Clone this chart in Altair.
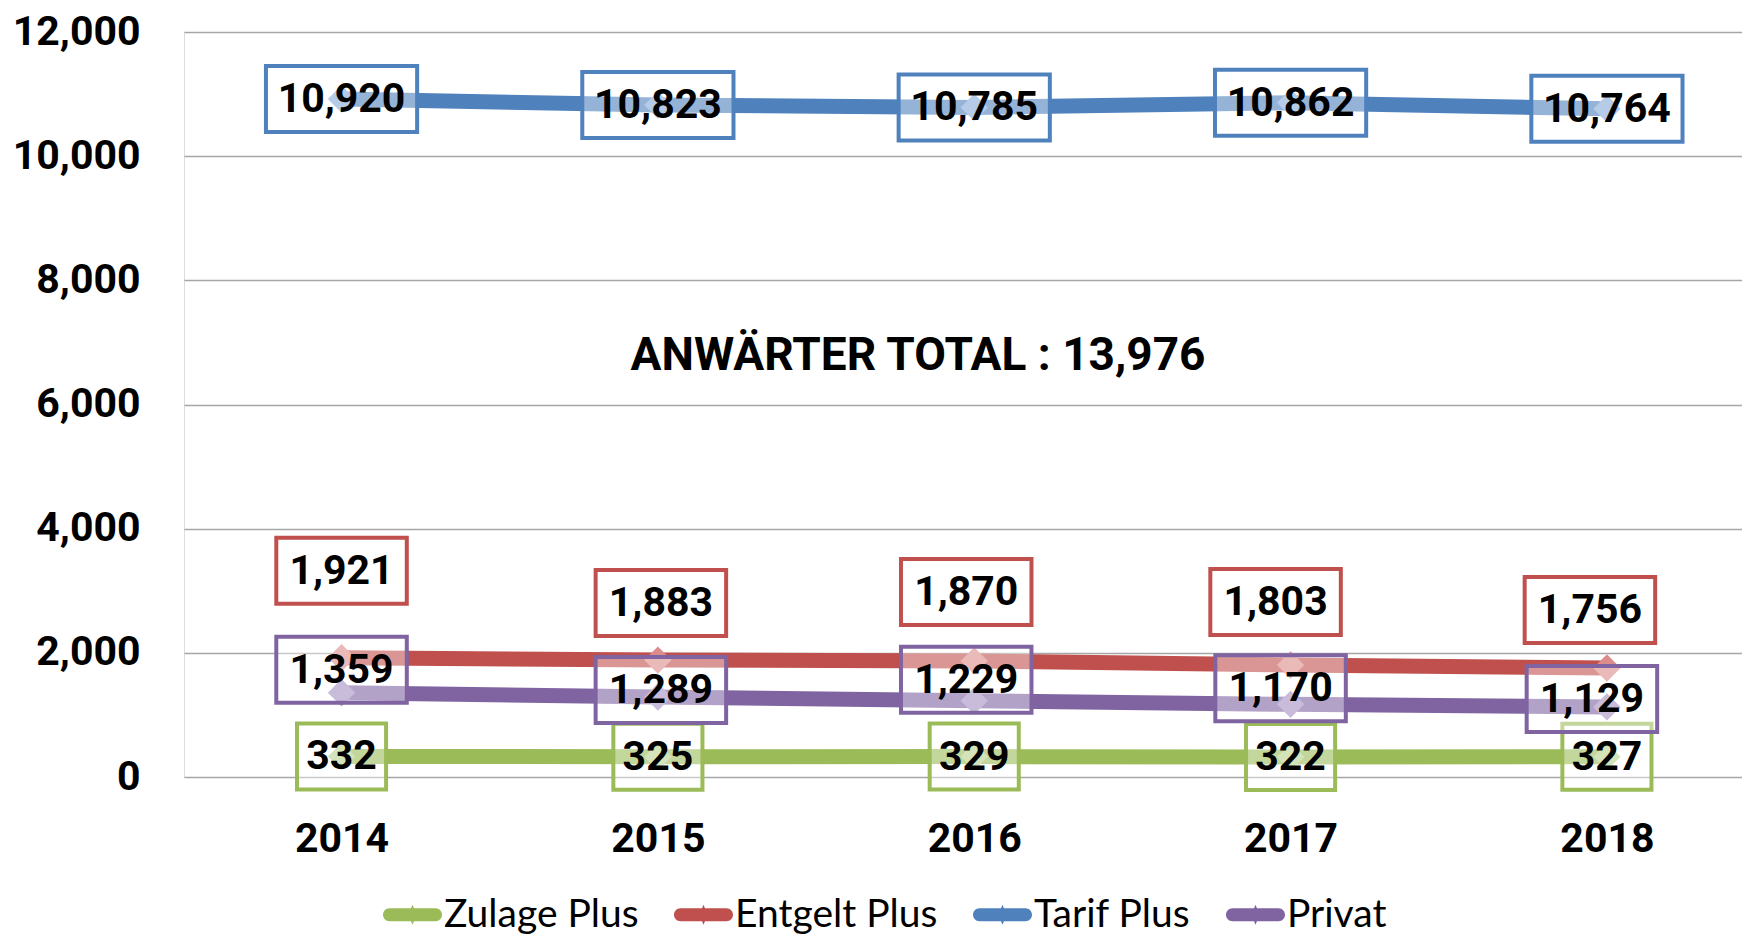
import altair as alt
import pandas as pd

# ---- data ----
years = [2014, 2015, 2016, 2017, 2018]
series = ["Zulage Plus", "Entgelt Plus", "Tarif Plus", "Privat"]
zulage_plus = [332, 325, 329, 322, 327]
entgelt_plus = [1921, 1883, 1870, 1803, 1756]
tarif_plus = [10920, 10823, 10785, 10862, 10764]
privat = [1359, 1289, 1229, 1170, 1129]
y_ticks = [0, 2000, 4000, 6000, 8000, 10000, 12000]

# ---- styles ----
colors = ["#9BBB59", "#C0504D", "#4F81BD", "#8064A2"]
light_colors = ["#B7D08A", "#DC8D8B", "#86A8D8", "#A690C2"]
# pixel nudges of the value-label boxes (style only)
label_dx = {"Zulage Plus": [0, 0, 0, 0, 0],
            "Entgelt Plus": [0, 3, -8, -15, -17],
            "Tarif Plus": [0, 0, 0, 0, 0],
            "Privat": [0, 3, -8, -10, -15]}
label_dy = {"Zulage Plus": [0, 0, 0, 0, 0],
            "Entgelt Plus": [-87, -57, -69, -63, -58],
            "Tarif Plus": [0, 0, 0, 0, 0],
            "Privat": [-23, -7, -21, -16, -8]}
NUM_FONT = "Roboto"

rows = []
for name, vals in zip(series, [zulage_plus, entgelt_plus, tarif_plus, privat]):
    for i, (yr, v) in enumerate(zip(years, vals)):
        rows.append({"year": yr, "series": name, "value": v, "label": f"{v:,}",
                     "dx": label_dx[name][i], "dy": label_dy[name][i]})
df = pd.DataFrame(rows)

total = zulage_plus[-1] + entgelt_plus[-1] + tarif_plus[-1] + privat[-1]
title_text = f"ANWÄRTER TOTAL : {total:,}"


def color_expr(palette):
    expr = "'black'"
    for name, col in reversed(list(zip(series, palette))):
        expr = f"datum.series === '{name}' ? '{col}' : ({expr})"
    return expr


color_scale = alt.Scale(domain=series, range=colors)

x_enc = alt.X("year:Q",
              scale=alt.Scale(domain=[2013.502, 2018.427], nice=False, zero=False),
              axis=alt.Axis(values=years, format="d", title=None, grid=False,
                            ticks=False, domain=False, labelFont=NUM_FONT,
                            labelFontWeight="bold", labelFontSize=41,
                            labelColor="black", labelPadding=42, labelFlush=False))
y_enc = alt.Y("value:Q",
              scale=alt.Scale(domain=[0, 12000], nice=False),
              axis=alt.Axis(values=y_ticks, format=",d", title=None, ticks=False,
                            domain=False, labelFont=NUM_FONT, labelFontWeight="bold",
                            labelFontSize=41, labelColor="black", labelPadding=44,
                            gridColor="#A6A6A6", gridWidth=1.5))

base = alt.Chart(df).transform_calculate(
    main_col=color_expr(colors),
    light_col=color_expr(light_colors),
)

lines = base.mark_line(strokeWidth=15).encode(
    x=x_enc, y=y_enc,
    stroke=alt.Stroke("main_col:N", scale=None),
    detail="series:N",
)

pill = ("M-0.78,-0.22 L0.78,-0.22 A0.22,0.22 0 0 1 0.78,0.22 L-0.78,0.22 "
        "A0.22,0.22 0 0 1 -0.78,-0.22 Z M0,-0.34 L0.14,0 L0,0.34 L-0.14,0 Z")

legend_layer = base.mark_point(filled=True, size=1, opacity=1).encode(
    x=x_enc, y=y_enc,
    color=alt.Color("series:N", scale=color_scale, sort=series,
                    legend=alt.Legend(title=None, orient="none", legendX=199, legendY=853,
                                      direction="horizontal", columns=4,
                                      symbolType=pill, symbolSize=3481,
                                      symbolStrokeWidth=0, symbolOpacity=1,
                                      labelFont="Lato", labelFontSize=39,
                                      labelColor="black", labelOffset=2,
                                      labelLimit=0, columnPadding=35)),
)

diamonds = base.mark_point(shape="diamond", filled=True, size=750, opacity=1,
                           strokeWidth=0).encode(
    x=x_enc, y=y_enc,
    fill=alt.Fill("light_col:N", scale=None),
)

boxes = base.transform_calculate(
    hw="13.5 + 10.35 * length(datum.label)",
).transform_calculate(
    x0="datum.dx - datum.hw", x1="datum.dx + datum.hw",
    y0="datum.dy - 33", y1="datum.dy + 33",
).transform_calculate(
    boxpath="'M' + datum.x0 + ',' + datum.y0 + ' L' + datum.x1 + ',' + datum.y0"
            " + ' L' + datum.x1 + ',' + datum.y1 + ' L' + datum.x0 + ',' + datum.y1 + ' Z'"
).mark_point(size=4, fill="white", fillOpacity=0.4, strokeWidth=4,
             strokeOpacity=1, opacity=1).encode(
    x=x_enc, y=y_enc,
    shape=alt.Shape("boxpath:N", scale=None),
    stroke=alt.Stroke("main_col:N", scale=None),
)

text_layers = []
pairs = sorted(set(zip(df["dx"], df["dy"])))
for dx, dy in pairs:
    text_layers.append(
        base.transform_filter(
            (alt.datum.dx == int(dx)) & (alt.datum.dy == int(dy))
        ).mark_text(
            font=NUM_FONT, fontWeight="bold", fontSize=41, color="black",
            baseline="middle", align="center", dx=int(dx), dy=int(dy) + 1,
        ).encode(x=x_enc, y=y_enc, text="label:N")
    )

annot = alt.Chart(pd.DataFrame({"t": [title_text]})).mark_text(
    font=NUM_FONT, fontWeight="bold", fontSize=46, color="black",
    align="center", baseline="middle",
).encode(x=alt.value(734), y=alt.value(324), text="t:N")

chart = alt.layer(lines, legend_layer, diamonds, boxes, *text_layers, annot).properties(
    width=1558, height=745,
    padding={"left": 176, "top": 24, "right": 0, "bottom": 158},
    autosize="none",
).configure_view(stroke=None).configure(background="white")

chart.save("out.html", embed_options={"renderer": "svg", "actions": False})
